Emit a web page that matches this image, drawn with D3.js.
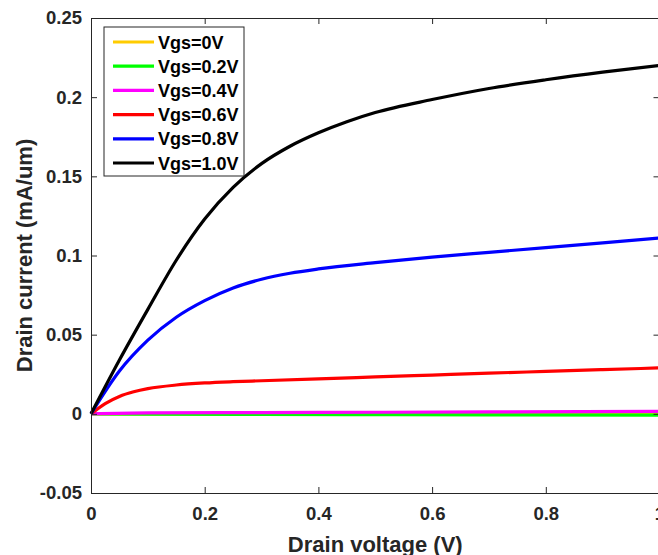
<!DOCTYPE html>
<html>
<head>
<meta charset="utf-8">
<script src="https://cdn.jsdelivr.net/npm/d3@7"></script>
<style>
  body { margin: 0; background: #fff; }
  svg { display: block; }
</style>
</head>
<body>
<svg id="chart" width="658" height="555"></svg>
<script>
// Drain voltage sample points (V) and drain current (mA/um) per gate voltage
const vdsBlack = [0, 0.05, 0.1, 0.15, 0.2, 0.25, 0.3, 0.35, 0.4, 0.45, 0.5, 0.6, 0.7, 0.8, 0.9, 1.0];
const idVgs10 = [0, 0.034, 0.066, 0.097, 0.123, 0.143, 0.158, 0.169, 0.1775, 0.1845, 0.1903, 0.1985, 0.2055, 0.211, 0.2158, 0.22];

const vdsBlue = [0, 0.05, 0.1, 0.15, 0.2, 0.25, 0.3, 0.35, 0.4, 0.5, 0.6, 0.7, 0.8, 0.9, 1.0];
const idVgs08 = [0, 0.027, 0.0465, 0.061, 0.0715, 0.0795, 0.085, 0.0888, 0.0915, 0.0955, 0.099, 0.102, 0.105, 0.108, 0.111];

const vdsRed = [0, 0.025, 0.05, 0.075, 0.1, 0.15, 0.2, 0.25, 0.3, 0.4, 0.5, 0.6, 0.7, 0.8, 0.9, 1.0];
const idVgs06 = [0, 0.0065, 0.011, 0.0139, 0.0159, 0.0182, 0.0195, 0.0203, 0.0209, 0.0221, 0.0233, 0.0245, 0.0257, 0.0268, 0.0279, 0.029];

const vdsLow = [0, 0.1, 0.3, 0.5, 0.7, 1.0];
const idVgs04 = [0, 0.0006, 0.0008, 0.001, 0.0012, 0.0015];
const idVgs02 = [0, -0.0002, -0.0004, -0.0005, -0.0006, -0.0008];
const idVgs00 = [0, 0, 0, 0, 0, 0];

const xTicks = [0, 0.2, 0.4, 0.6, 0.8, 1];
const yTicks = [-0.05, 0, 0.05, 0.1, 0.15, 0.2, 0.25];

const series = [
    { name: "Vgs=0V",   color: "#FFCC00", x: vdsLow,   y: idVgs00 },
    { name: "Vgs=0.2V", color: "#00FF00", x: vdsLow,   y: idVgs02 },
    { name: "Vgs=0.4V", color: "#FF00FF", x: vdsLow,   y: idVgs04 },
    { name: "Vgs=0.6V", color: "#FF0000", x: vdsRed,   y: idVgs06 },
    { name: "Vgs=0.8V", color: "#0000FF", x: vdsBlue,  y: idVgs08 },
    { name: "Vgs=1.0V", color: "#000000", x: vdsBlack, y: idVgs10 }
];

const axisColor = "#262626";
const font = "'Liberation Sans', Arial, Helvetica, sans-serif";

const margin = { left: 91, top: 18 };
const plotW = 568.5, plotH = 475;

const svg = d3.select("#chart");
const g = svg.append("g").attr("transform", `translate(${margin.left},${margin.top})`);

const x = d3.scaleLinear().domain([0, 1]).range([0, plotW]);
const y = d3.scaleLinear().domain([-0.05, 0.25]).range([plotH, 0]);

// Curves
const line = d3.line()
    .x(d => x(d[0]))
    .y(d => y(d[1]))
    .curve(d3.curveMonotoneX);

g.selectAll(".curve")
    .data(series)
    .join("path")
    .attr("class", "curve")
    .attr("fill", "none")
    .attr("stroke", d => d.color)
    .attr("stroke-width", 3.2)
    .attr("stroke-linejoin", "round")
    .attr("d", d => line(d.x.map((v, i) => [v, d.y[i]])));

// Axes (MATLAB style box with inward ticks)
function styleAxis(sel) {
    sel.select(".domain").attr("stroke", axisColor).attr("stroke-width", 1);
    sel.selectAll(".tick line").attr("stroke", axisColor).attr("stroke-width", 1);
    sel.selectAll("text")
        .attr("fill", axisColor)
        .style("font-family", font)
        .style("font-weight", "bold")
        .style("font-size", "18.5px");
}

// plain hyphen for negatives, like the original
const fmt = d => String(+d.toFixed(2));

g.append("g")
    .attr("transform", `translate(0,${plotH})`)
    .call(d3.axisBottom(x).tickValues(xTicks).tickFormat(fmt).tickSizeInner(-6).tickSizeOuter(0).tickPadding(14))
    .call(styleAxis);

g.append("g")
    .call(d3.axisTop(x).tickValues(xTicks).tickFormat("").tickSizeInner(-6).tickSizeOuter(0))
    .call(styleAxis);

g.append("g")
    .call(d3.axisLeft(y).tickValues(yTicks).tickFormat(fmt).tickSizeInner(-6).tickSizeOuter(0).tickPadding(9))
    .call(styleAxis);

g.append("g")
    .attr("transform", `translate(${plotW},0)`)
    .call(d3.axisRight(y).tickValues(yTicks).tickFormat("").tickSizeInner(-6).tickSizeOuter(0))
    .call(styleAxis);

// Axis titles
svg.append("text")
    .attr("x", margin.left + plotW / 2)
    .attr("y", 552)
    .attr("text-anchor", "middle")
    .attr("fill", axisColor)
    .style("font-family", font)
    .style("font-weight", "bold")
    .style("font-size", "22px")
    .text("Drain voltage (V)");

svg.append("text")
    .attr("transform", `translate(32,${margin.top + plotH / 2}) rotate(-90)`)
    .attr("text-anchor", "middle")
    .attr("fill", axisColor)
    .style("font-family", font)
    .style("font-weight", "bold")
    .style("font-size", "22px")
    .text("Drain current (mA/um)");

// Legend
const legend = svg.append("g").attr("transform", "translate(104,27)");

legend.append("rect")
    .attr("width", 140)
    .attr("height", 149)
    .attr("fill", "#fff")
    .attr("stroke", axisColor)
    .attr("stroke-width", 1);

const rows = legend.selectAll(".row")
    .data(series)
    .join("g")
    .attr("class", "row")
    .attr("transform", (d, i) => `translate(0,${15 + i * 24.2})`);

rows.append("line")
    .attr("x1", 9).attr("x2", 50)
    .attr("stroke", d => d.color)
    .attr("stroke-width", 3.2);

rows.append("text")
    .attr("x", 54)
    .attr("y", 6.5)
    .attr("fill", "#000")
    .style("font-family", font)
    .style("font-weight", "bold")
    .style("font-size", "18px")
    .text(d => d.name);
</script>
</body>
</html>
